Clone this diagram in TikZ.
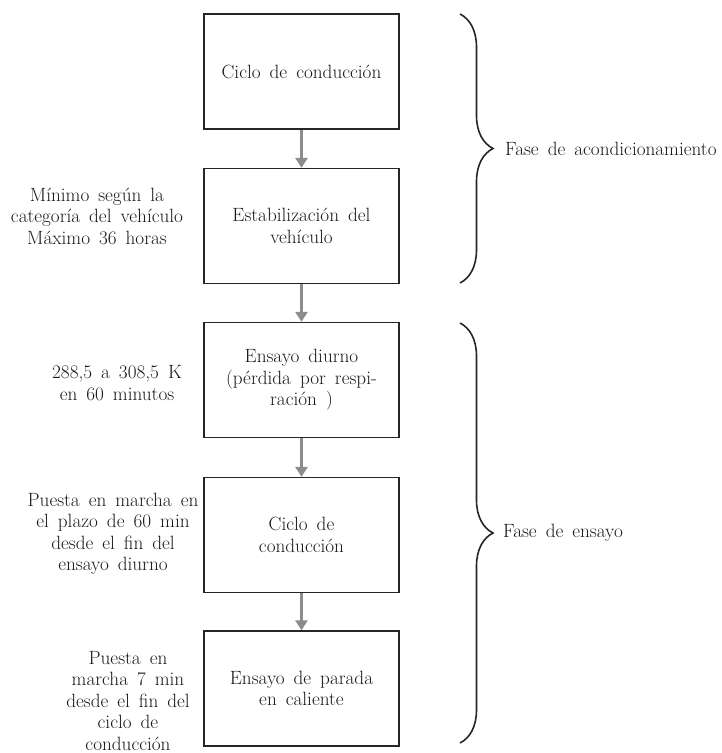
\documentclass[tikz,border=0pt]{standalone}
\usepackage{fontspec}
\usetikzlibrary{arrows.meta,positioning,decorations.pathreplacing}

\newcommand{\flowfont}{\fontsize{19.2}{21.5}\selectfont\spaceskip=9pt plus 1pt minus 1pt\relax}

\tikzset{
  stage/.style={draw=black!85,line width=1.3pt,minimum width=195pt,
    minimum height=115pt,align=center,inner sep=4pt},
  flow/.style={draw=black!45,line width=2.6pt,
    -{Triangle[width=12pt,length=10pt]}},
  note/.style={align=center,inner sep=0pt},
  phase/.style={decorate,decoration={brace,amplitude=33pt},
    draw=black!85,line width=1.6pt},
}

\begin{document}
\begin{tikzpicture}[x=1pt,y=-1pt,font=\flowfont,text=black!90]
  \useasboundingbox (0,0) rectangle (722,753);
  % stages
  \node[stage] (cycleA) at (301.5,71.5) {Ciclo de conducción};
  \node[stage] (stab) at (301.5,226) {Estabilización del\\vehículo};
  \node[stage] (diurnal) at (301.5,380) {Ensayo diurno\\(pérdida por respi-\\ración )};
  \node[stage] (cycleB) at (301.5,535) {Ciclo de\\conducción};
  \node[stage] (hotsoak) at (301.5,688.5) {Ensayo de parada\\en caliente};
  \draw[flow] (cycleA) -- (stab);
  \draw[flow] (stab) -- (diurnal);
  \draw[flow] (diurnal) -- (cycleB);
  \draw[flow] (cycleB) -- (hotsoak);
  % conditions
  \node[note] (soaktime) at (97,216) {Mínimo según la\\categoría del vehículo\\Máximo 36 horas};
  \node[note] (temp) at (117,383) {288,5 a 308,5 K\\en 60 minutos};
  \node[note] (start1) at (113,534) {Puesta en marcha en\\el plazo de 60 min\\desde el fin del\\ensayo diurno};
  \node[note] (start2) at (128,701) {Puesta en\\marcha 7 min\\desde el fin del\\ciclo de\\conducción};
  % phases
  \coordinate (precTop) at (460,14);
  \coordinate (precBot) at (460,283);
  \coordinate (testTop) at (460,323);
  \coordinate (testBot) at (460,743);
  \draw[phase] (precTop) -- (precBot);
  \draw[phase] (testTop) -- (testBot);
  \node[anchor=west,inner sep=0pt] (precLbl) at (505,149) {Fase de acondicionamiento};
  \node[anchor=west,inner sep=0pt] (testLbl) at (503,533) {Fase de ensayo};
\end{tikzpicture}
\end{document}
